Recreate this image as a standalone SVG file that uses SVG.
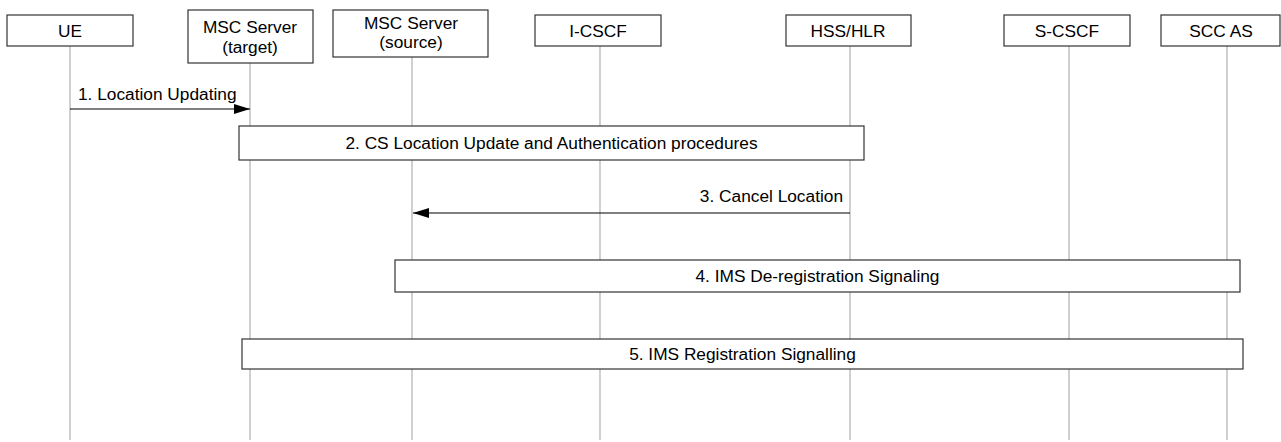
<svg xmlns="http://www.w3.org/2000/svg" width="1281" height="442" viewBox="0 0 1281 442">
<style>
.box{fill:#fff;stroke:#333;stroke-width:1.2}
.life{stroke:#b0b0b0;stroke-width:1.2;fill:none}
.msg{stroke:#000;stroke-width:1.2;fill:none}
text{font-family:"Liberation Sans",Arial,sans-serif;font-size:17.3px;fill:#000}
.c{text-anchor:middle}
.e{text-anchor:end}
</style>
<defs>
<marker id="ah" markerWidth="16" markerHeight="10" refX="16" refY="5" orient="auto" markerUnits="userSpaceOnUse">
<path d="M0,0 L16,5 L0,10 z" fill="#000"/>
</marker>
</defs>
<g id="lifelines">
<line class="life" x1="70" y1="46" x2="70" y2="440"/>
<line class="life" x1="250" y1="63" x2="250" y2="440"/>
<line class="life" x1="412" y1="57" x2="412" y2="440"/>
<line class="life" x1="600" y1="46" x2="600" y2="440"/>
<line class="life" x1="850" y1="46" x2="850" y2="440"/>
<line class="life" x1="1069" y1="46" x2="1069" y2="440"/>
<line class="life" x1="1227" y1="46" x2="1227" y2="440"/>
</g>
<g id="node-ue">
<rect class="box" x="7" y="15" width="126" height="31"/>
<text class="c" x="70" y="37">UE</text>
</g>
<g id="node-msc-target">
<rect class="box" x="188" y="10" width="125" height="53"/>
<text class="c" x="250" y="33">MSC Server</text>
<text class="c" x="250" y="53">(target)</text>
</g>
<g id="node-msc-source">
<rect class="box" x="333" y="10" width="155" height="47"/>
<text class="c" x="411" y="29">MSC Server</text>
<text class="c" x="411" y="48">(source)</text>
</g>
<g id="node-icscf">
<rect class="box" x="535" y="15" width="126" height="31"/>
<text class="c" x="598" y="37">I-CSCF</text>
</g>
<g id="node-hss">
<rect class="box" x="786" y="15" width="125" height="31"/>
<text class="c" x="848" y="37">HSS/HLR</text>
</g>
<g id="node-scscf">
<rect class="box" x="1004" y="15" width="126" height="31"/>
<text class="c" x="1067" y="37">S-CSCF</text>
</g>
<g id="node-sccas">
<rect class="box" x="1161" y="15" width="119" height="31"/>
<text class="c" x="1221" y="37">SCC AS</text>
</g>
<g id="connectors">
<line class="msg" x1="70" y1="109" x2="250" y2="109" marker-end="url(#ah)"/>
<text x="78" y="100">1. Location Updating</text>
<line class="msg" x1="850" y1="213" x2="413" y2="213" marker-end="url(#ah)"/>
<text class="e" x="843" y="202">3. Cancel Location</text>
</g>
<g id="step-2">
<rect class="box" x="239" y="126" width="625" height="34"/>
<text class="c" x="551.5" y="149">2. CS Location Update and Authentication procedures</text>
</g>
<g id="step-4">
<rect class="box" x="395" y="260" width="845" height="32"/>
<text class="c" x="817.5" y="282">4. IMS De-registration Signaling</text>
</g>
<g id="step-5">
<rect class="box" x="242" y="339" width="1001" height="30"/>
<text class="c" x="742.5" y="360">5. IMS Registration Signalling</text>
</g>
</svg>
